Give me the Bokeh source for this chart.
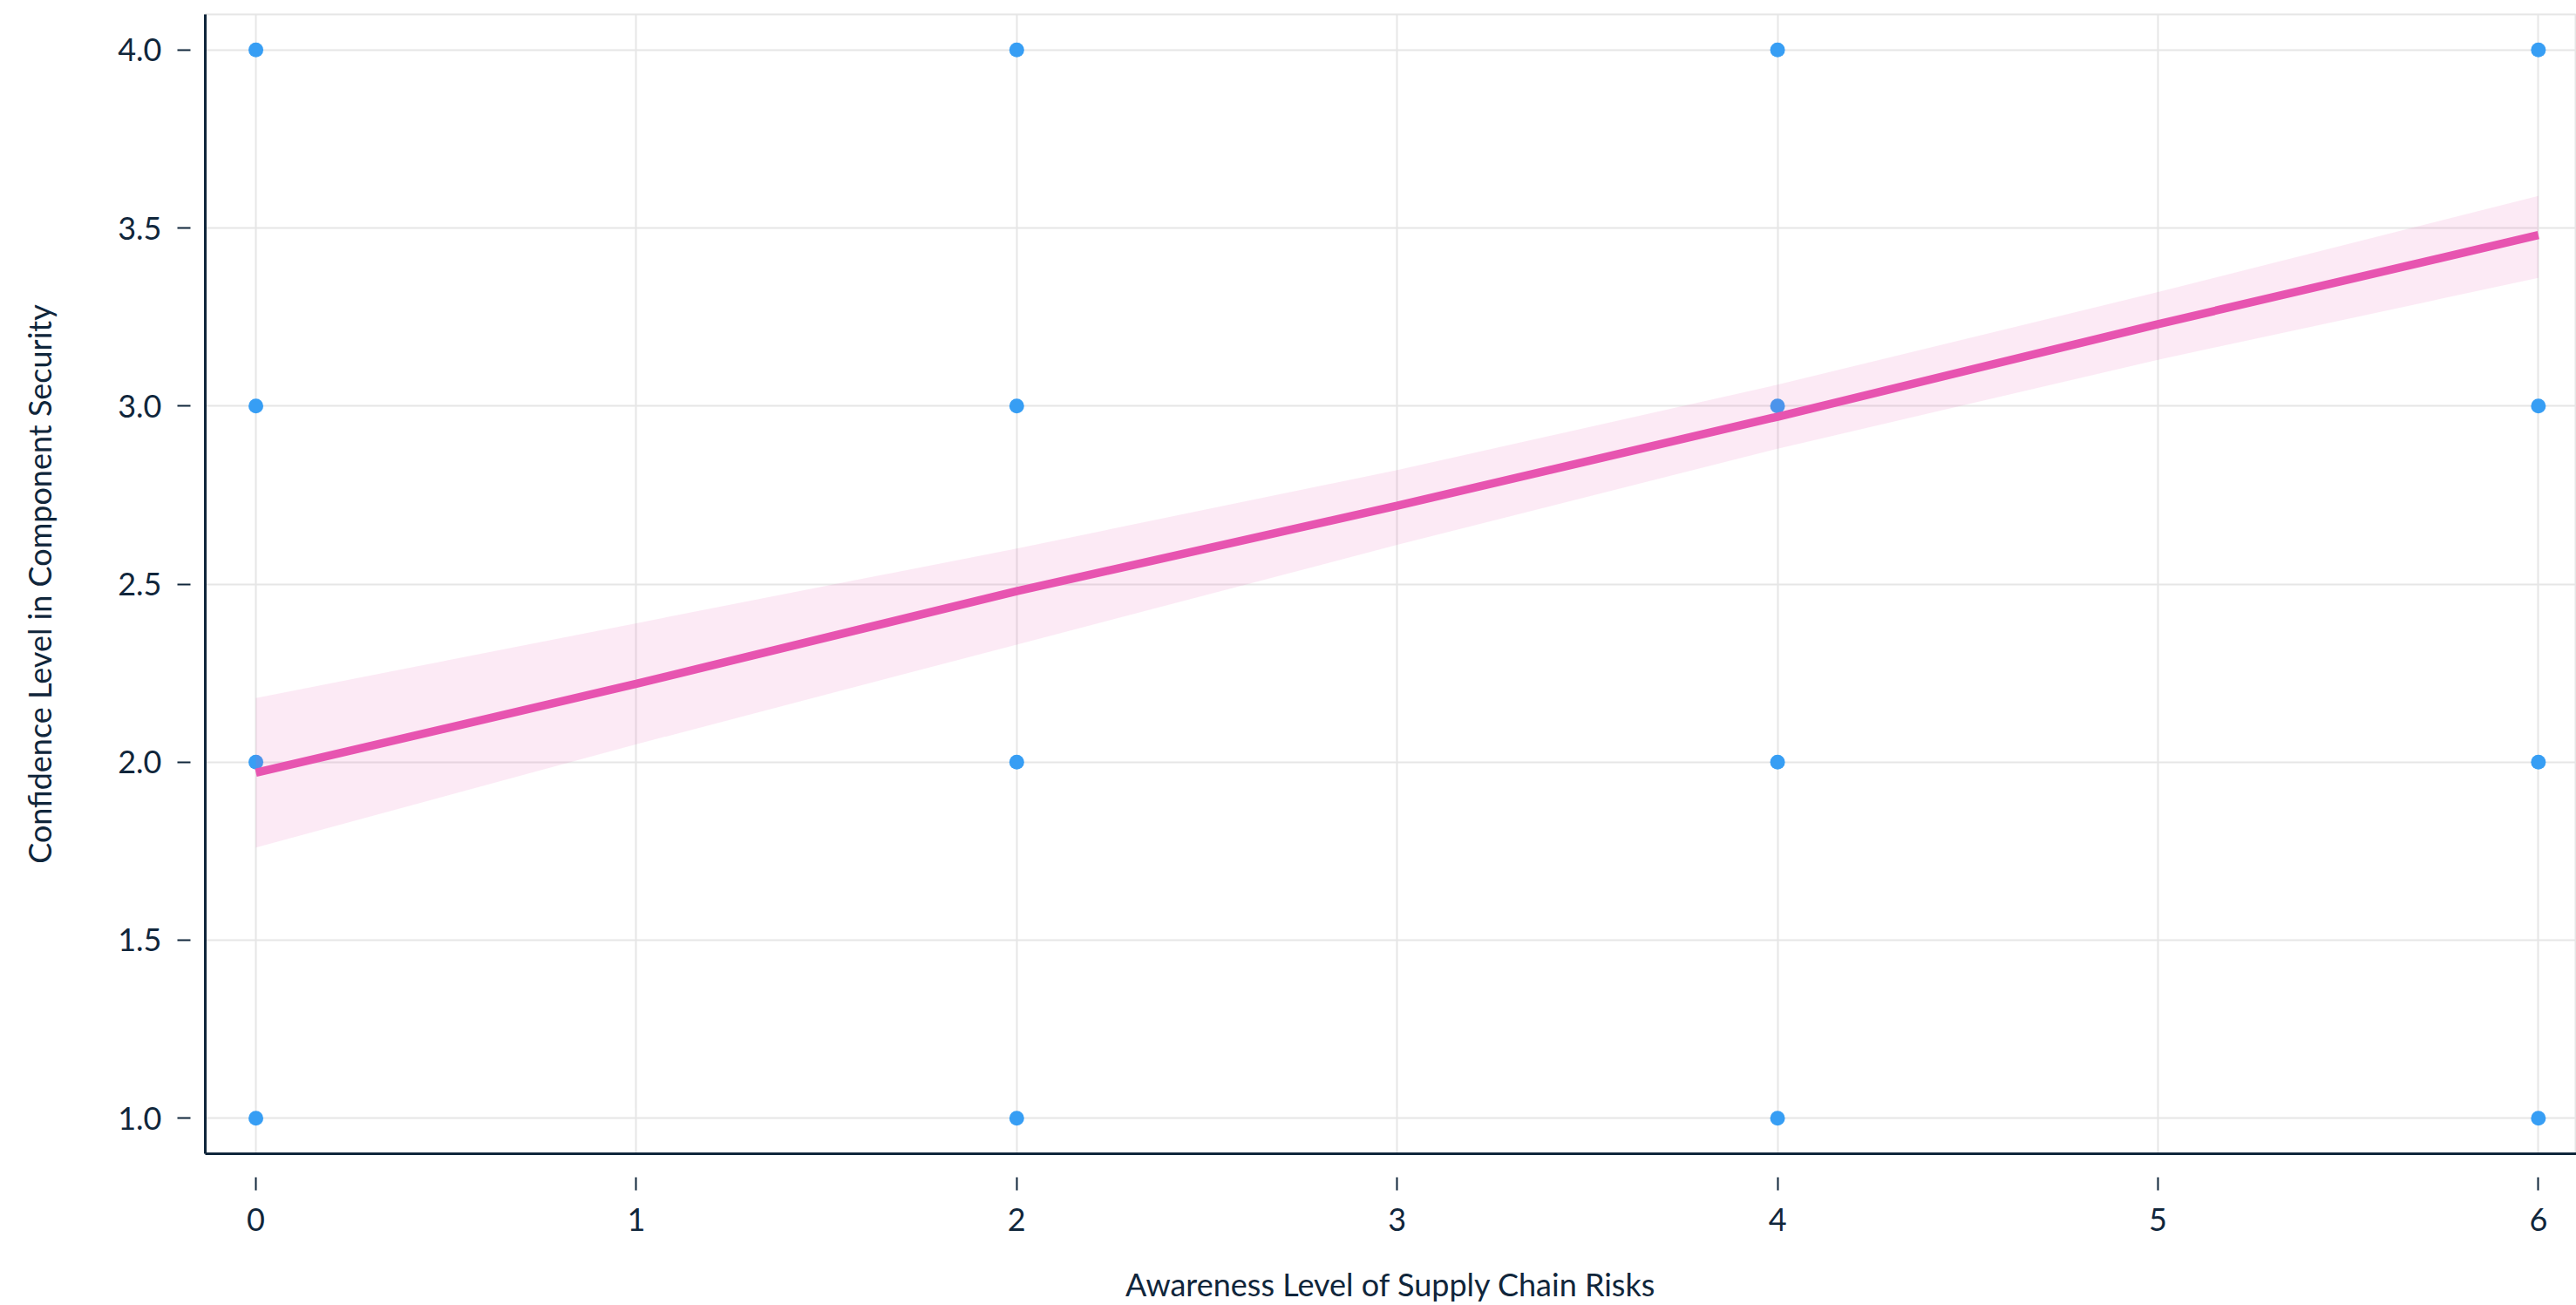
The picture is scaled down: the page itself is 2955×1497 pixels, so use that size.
from bokeh.plotting import figure
from bokeh.models import FixedTicker, PrintfTickFormatter, Range1d, ColumnDataSource
from bokeh.embed import file_html
from bokeh.resources import INLINE

# ---- data ----
awareness = [0, 0, 0, 0, 2, 2, 2, 2, 4, 4, 4, 4, 6, 6, 6, 6]
confidence = [1, 2, 3, 4, 1, 2, 3, 4, 1, 2, 3, 4, 1, 2, 3, 4]

fit_x = [0, 1, 2, 3, 4, 5, 6]
fit_y = [1.97, 2.22, 2.48, 2.72, 2.97, 3.23, 3.48]
ci_upper = [2.18, 2.39, 2.60, 2.82, 3.06, 3.32, 3.59]
ci_lower = [1.76, 2.05, 2.33, 2.61, 2.88, 3.13, 3.36]

x_ticks = [0, 1, 2, 3, 4, 5, 6]
y_ticks = [1.0, 1.5, 2.0, 2.5, 3.0, 3.5, 4.0]

x_title = "Awareness Level of Supply Chain Risks"
y_title = "Confidence Level in Component Security"

# ---- styling ----
FONT = "Lato"
INK = "#10263b"
GRID = "#e6e6e6"
DOT = "#379ef4"
PINK = "#e754b0"

p = figure(
    width=2955, height=1497,
    x_range=Range1d(-0.133, 6.10), y_range=Range1d(0.9, 4.1),
    output_backend="svg", toolbar_location=None,
    min_border_left=235, min_border_top=16, min_border_right=0, min_border_bottom=174,
)
p.background_fill_color = "white"
p.border_fill_color = "white"
p.outline_line_color = GRID
p.outline_line_width = 2

pts = ColumnDataSource(dict(x=awareness, y=confidence))
fit = ColumnDataSource(dict(x=fit_x, y=fit_y, lo=ci_lower, hi=ci_upper))

p.scatter("x", "y", source=pts, size=17, fill_color=DOT, line_color=None)
p.varea(x="x", y1="lo", y2="hi", source=fit, fill_color=PINK, fill_alpha=0.12)
p.line("x", "y", source=fit, line_color=PINK, line_width=9.5)

p.xaxis.ticker = FixedTicker(ticks=x_ticks)
p.yaxis.ticker = FixedTicker(ticks=y_ticks)
p.yaxis.formatter = PrintfTickFormatter(format="%.1f")

for ax in (p.xaxis, p.yaxis):
    ax.axis_line_color = INK
    ax.axis_line_width = 3
    ax.major_tick_line_color = INK
    ax.major_tick_line_width = 2
    ax.minor_tick_line_color = None
    ax.major_label_text_font = FONT
    ax.major_label_text_font_size = "36px"
    ax.major_label_text_color = INK
    ax.axis_label_text_font = FONT
    ax.axis_label_text_font_size = "36px"
    ax.axis_label_text_font_style = "normal"
    ax.axis_label_text_color = INK

p.xaxis.major_tick_in = -27
p.xaxis.major_tick_out = 42
p.xaxis.major_label_standoff = 20
p.xaxis.axis_label = x_title
p.xaxis.axis_label_standoff = 36

p.yaxis.major_tick_in = -17
p.yaxis.major_tick_out = 32
p.yaxis.major_label_standoff = 18
p.yaxis.axis_label = y_title
p.yaxis.axis_label_standoff = 65

p.xgrid.grid_line_color = GRID
p.xgrid.grid_line_width = 2
p.ygrid.grid_line_color = GRID
p.ygrid.grid_line_width = 2

open("out.html", "w").write(file_html(p, INLINE))
